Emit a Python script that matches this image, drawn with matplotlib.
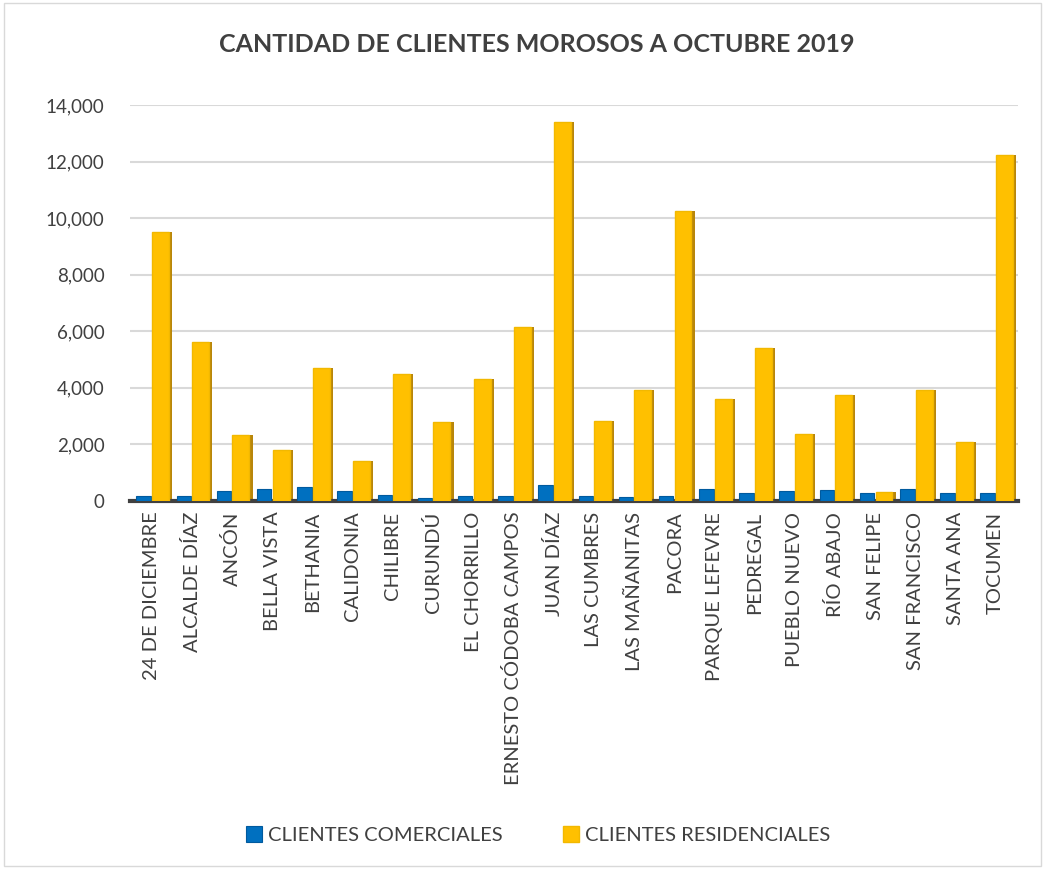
import numpy as np
import matplotlib
matplotlib.use("Agg")
import matplotlib.pyplot as plt

plt.rcParams["font.family"] = ["Lato", "DejaVu Sans"]

barrios = [
    "24 DE DICIEMBRE", "ALCALDE DÍAZ", "ANCÓN", "BELLA VISTA", "BETHANIA",
    "CALIDONIA", "CHILIBRE", "CURUNDÚ", "EL CHORRILLO", "ERNESTO CÓDOBA CAMPOS",
    "JUAN DÍAZ", "LAS CUMBRES", "LAS MAÑANITAS", "PACORA", "PARQUE LEFEVRE",
    "PEDREGAL", "PUEBLO NUEVO", "RÍO ABAJO", "SAN FELIPE", "SAN FRANCISCO",
    "SANTA ANA", "TOCUMEN",
]
comerciales = [150, 150, 350, 420, 470, 350, 200, 100, 150, 150,
               560, 150, 130, 150, 420, 250, 350, 380, 250, 420, 280, 280]
residenciales = [9500, 5600, 2330, 1800, 4700, 1400, 4470, 2770, 4290, 6130,
                 13400, 2800, 3900, 10250, 3580, 5390, 2340, 3720, 320, 3900,
                 2090, 12230]

text_col = "#404040"

fig = plt.figure(figsize=(10.45, 8.69), dpi=100)
ax = fig.add_axes([0.124, 0.424, 0.85, 0.455])

x = np.arange(len(barrios))
w = 0.42
ax.bar(x - 0.2, comerciales, width=0.36, color="#0070C0",
       edgecolor="#005a9e", linewidth=0.8, zorder=3,
       label="CLIENTES COMERCIALES")
ax.bar(x + 0.22, residenciales, width=w, color="#FFC000",
       edgecolor="#F2B800", linewidth=1.0, zorder=3,
       label="CLIENTES RESIDENCIALES")
# darker side face for a little depth
ax.bar(x + 0.22 + w / 2 + 0.04, residenciales, width=0.08, color="#B8860B",
       linewidth=0, zorder=2)

ax.set_xlim(-0.55, len(barrios) - 0.45)
ax.set_ylim(0, 14000)
ax.set_yticks(np.arange(0, 14001, 2000))
ax.yaxis.set_major_formatter(matplotlib.ticker.StrMethodFormatter("{x:,.0f}"))
ax.yaxis.grid(True, color="#d9d9d9", linewidth=1.5, zorder=0)
ax.set_axisbelow(True)

ax.set_xticks(x)
ax.set_xticklabels(barrios, rotation=90, fontsize=14.5, color=text_col)
ax.tick_params(axis="y", labelsize=13.5, colors=text_col, length=0, pad=18)
ax.tick_params(axis="x", length=0, pad=8)

for s in ["top", "right", "left"]:
    ax.spines[s].set_visible(False)
ax.spines["bottom"].set_color("#404040")
ax.spines["bottom"].set_linewidth(3)

fig.suptitle("CANTIDAD DE CLIENTES MOROSOS A OCTUBRE 2019", x=0.514, y=0.962,
             fontsize=18, fontweight="bold", color=text_col)

fig.legend(loc="center", bbox_to_anchor=(0.515, 0.039), ncol=2, frameon=False,
           fontsize=14.5, handlelength=0.8, handleheight=0.8, columnspacing=3,
           handletextpad=0.3, labelcolor=text_col)

fig.patches.append(plt.Rectangle((0.004, 0.004), 0.992, 0.992,
                                 transform=fig.transFigure, fill=False,
                                 edgecolor="#d9d9d9", linewidth=1))

fig.savefig("out.png", dpi=100)
